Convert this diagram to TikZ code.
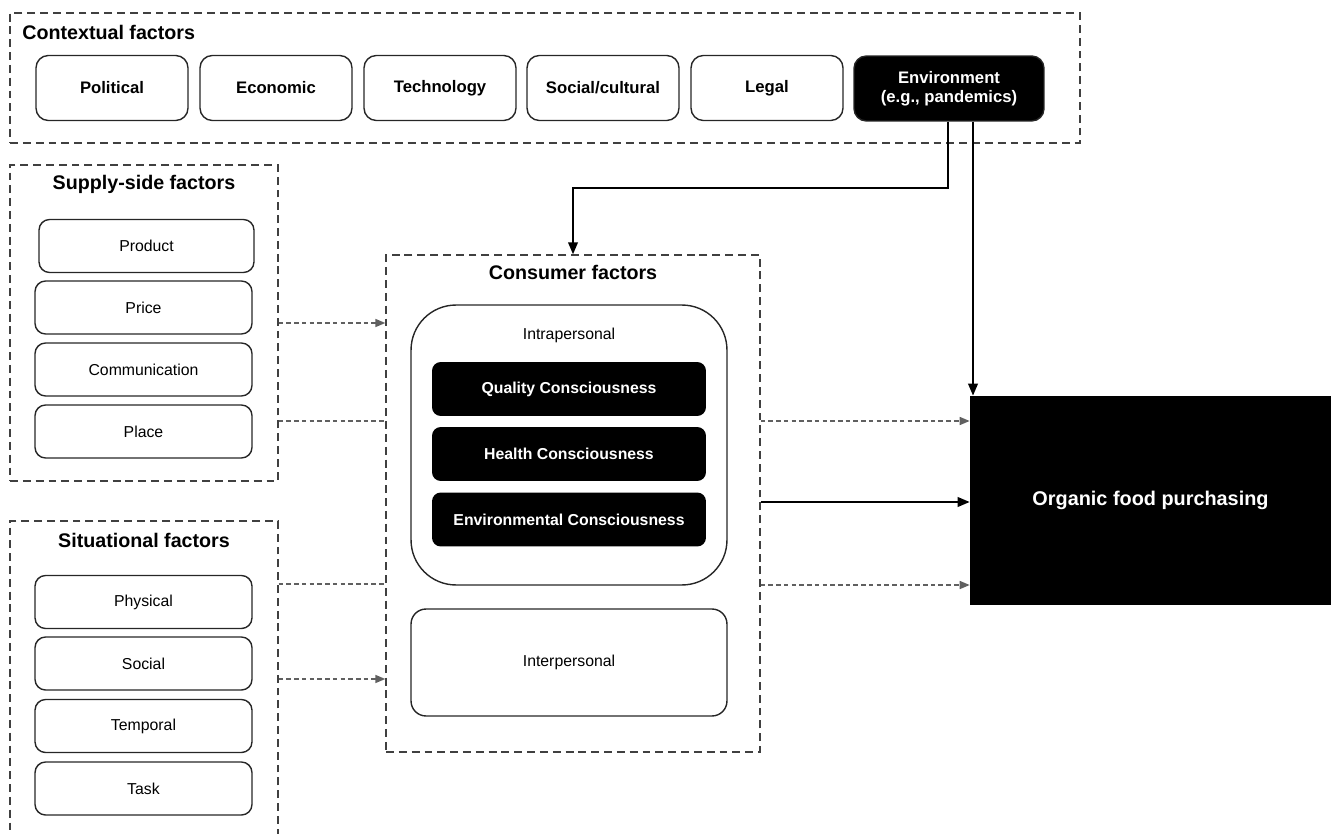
\documentclass[tikz,border=0pt]{standalone}
\usepackage{fontspec}
\setmainfont{Liberation Sans}
\usetikzlibrary{arrows.meta, positioning, calc}
\def\ctxw{3.04cm}
\def\sidew{4.34cm}
\def\consw{5.48cm}

\begin{document}
\begin{tikzpicture}[
  x=0.02cm, y=-0.02cm,
  >={Triangle[length=2.4mm, width=1.9mm]},
  group/.style   = {draw=black!75, line width=0.8pt, dash pattern=on 4.5pt off 2.8pt},
  grouptl/.style = {font=\fontsize{11.2}{13}\selectfont\bfseries, inner sep=0pt},
  ctxbox/.style  = {draw=black!85, line width=0.8pt, rounded corners=7pt, align=center,
                    minimum width=\ctxw, minimum height=1.3cm,
                    font=\fontsize{9.5}{11}\selectfont\bfseries},
  darkbox/.style = {ctxbox, fill=black, text=white},
  sidebox/.style = {draw=black!85, line width=0.8pt, rounded corners=6pt,
                    minimum width=\sidew, minimum height=1.06cm,
                    font=\fontsize{9}{11}\selectfont},
  conbox/.style  = {fill=black, text=white, rounded corners=5pt,
                    minimum width=\consw, minimum height=1.08cm,
                    font=\fontsize{9}{11}\selectfont\bfseries},
  sig/.style     = {->, line width=1.2pt},
  gsig/.style    = {-{Triangle[length=2mm, width=1.6mm]}, gray!75!black, line width=0.9pt,
                    dash pattern=on 2.6pt off 1.8pt},
  gline/.style   = {gray!75!black, line width=0.9pt, dash pattern=on 2.6pt off 1.8pt},
]
\useasboundingbox (0,0) rectangle (1331,834);

% ---------- contextual factors ----------
\node[group, minimum width=21.4cm, minimum height=2.6cm] (ctx) at (545,78) {};
\node[grouptl, anchor=west] (ctx-tl) at (22,32) {Contextual factors};
\foreach \n/\x/\t in {pol/112/Political, eco/276/Economic, tec/440/Technology,
                      soc/603/{Social/cultural}, leg/767/Legal}{
  \node[ctxbox] (\n) at (\x,88) {\t};
}
\node[darkbox, minimum width=3.8cm] (env) at (949,88.5) {Environment\\(e.g., pandemics)};

% ---------- supply-side and situational factors ----------
\node[group, minimum width=5.36cm, minimum height=6.32cm] (supply) at (144,323) {};
\node[grouptl] (supply-tl) at (144,184) {Supply-side factors};
\node[sidebox, minimum width=4.3cm] (prod) at (146.5,246) {Product};
\foreach \n/\y/\t in {price/307.5/Price, comm/369.5/Communication, place/431.5/Place}{
  \node[sidebox] (\n) at (143.5,\y) {\t};
}
\node[group, minimum width=5.36cm, minimum height=6.34cm] (situ) at (144,679.5) {};
\node[grouptl] (situ-tl) at (144,540) {Situational factors};
\foreach \n/\y/\t in {phys/602/Physical, social/663.5/Social, temp/726/Temporal, task/788.5/Task}{
  \node[sidebox] (\n) at (143.5,\y) {\t};
}

% ---------- consumer factors ----------
\node[group, minimum width=7.48cm, minimum height=9.94cm] (cons) at (573,503.5) {};
\node[grouptl] (cons-tl) at (573,272) {Consumer factors};
\node[draw=black!85, line width=0.8pt, rounded corners=0.9cm,
      minimum width=6.32cm, minimum height=5.6cm] (intra) at (569,445) {};
\node[font=\fontsize{9}{11}\selectfont] (intra-tl) at (569,335) {Intrapersonal};
\foreach \n/\y/\t in {qual/389/Quality Consciousness, health/454/Health Consciousness,
                      envc/519.5/Environmental Consciousness}{
  \node[conbox] (\n) at (569,\y) {\t};
}
\node[draw=black!85, line width=0.8pt, rounded corners=0.3cm,
      minimum width=6.32cm, minimum height=2.14cm,
      font=\fontsize{9}{11}\selectfont] (inter) at (569,662.5) {Interpersonal};

% ---------- outcome ----------
\node[fill=black, text=white, minimum width=7.22cm, minimum height=4.18cm,
      font=\fontsize{11.3}{13}\selectfont\bfseries] (org) at (1150.5,500.5) {Organic food purchasing};

% ---------- environment arrows ----------
\draw[sig] ([xshift=-0.02cm]env.south) -- ++(0,66) -| (cons.north);
\draw[sig] ([xshift=0.48cm]env.south) -- ([xshift=0.48cm]env.south |- org.north);

% ---------- supply-side / situational -> consumer ----------
\draw[gsig]  (supply.east) -- (supply.east -| cons.west);
\draw[gline] ($(supply.east)+(0,98)$) coordinate (s2) -- (s2 -| cons.west);
\draw[gline] ($(situ.east)+(0,-95.5)$) coordinate (t1) -- (t1 -| cons.west);
\draw[gsig]  ($(situ.east)+(0,-0.5)$) coordinate (t2) -- (t2 -| cons.west);

% ---------- consumer -> purchasing ----------
\draw[gsig] ($(cons.east)+(0,-82.5)$) coordinate (c1) -- (c1 -| org.west);
\draw[sig]  ($(cons.east)+(0,-1.5)$) coordinate (c2) -- (c2 -| org.west);
\draw[gsig] ($(cons.east)+(0,81.5)$) coordinate (c3) -- (c3 -| org.west);

\end{tikzpicture}
\end{document}
